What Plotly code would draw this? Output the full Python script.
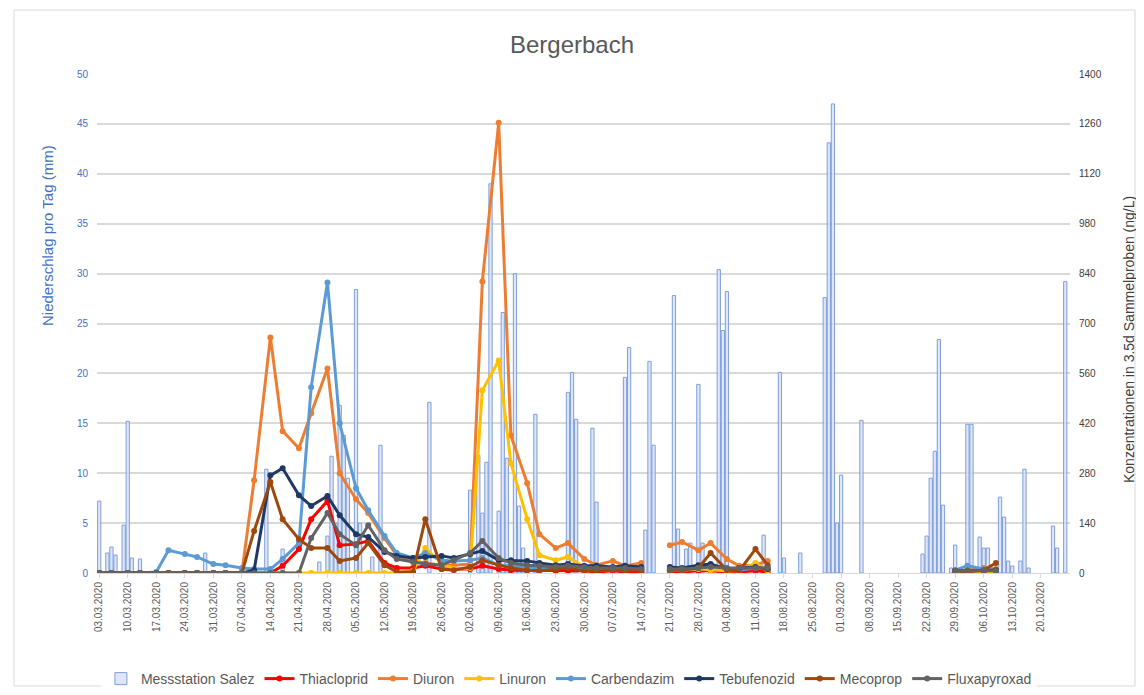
import plotly.graph_objects as go

# ---------------- data ----------------
rain_dates = ["2020-03-03","2020-03-05","2020-03-06","2020-03-07","2020-03-09","2020-03-10","2020-03-11","2020-03-13",
              "2020-03-29","2020-04-13","2020-04-17","2020-04-26","2020-04-28","2020-04-29","2020-04-30","2020-05-01",
              "2020-05-02","2020-05-03","2020-05-05","2020-05-06","2020-05-09","2020-05-11","2020-05-23","2020-06-02",
              "2020-06-04","2020-06-05","2020-06-06","2020-06-07","2020-06-09","2020-06-10","2020-06-11","2020-06-13",
              "2020-06-14","2020-06-15","2020-06-18","2020-06-26","2020-06-27","2020-06-28","2020-07-02","2020-07-03",
              "2020-07-10","2020-07-11","2020-07-15","2020-07-16","2020-07-17","2020-07-22","2020-07-23","2020-07-25",
              "2020-07-26","2020-07-28","2020-07-29","2020-08-02","2020-08-03","2020-08-04","2020-08-13","2020-08-17",
              "2020-08-18","2020-08-22","2020-08-28","2020-08-29","2020-08-30","2020-08-31","2020-09-01","2020-09-06",
              "2020-09-21","2020-09-22","2020-09-23","2020-09-24","2020-09-25","2020-09-26","2020-09-28","2020-09-29",
              "2020-10-02","2020-10-03","2020-10-05","2020-10-06","2020-10-07","2020-10-10","2020-10-11","2020-10-12",
              "2020-10-13","2020-10-15","2020-10-16","2020-10-17","2020-10-23","2020-10-24","2020-10-26"]
rain_mm = [7.2, 2.0, 2.6, 1.8, 4.8, 15.2, 1.5, 1.4,
           2.0, 10.4, 2.4, 1.1, 3.7, 11.7, 5.0, 16.8,
           13.8, 9.5, 28.4, 5.0, 1.6, 12.8, 17.1, 8.3,
           11.8, 6.0, 11.1, 39.0, 6.2, 26.1, 11.5, 30.0,
           6.7, 2.5, 15.9, 18.1, 20.1, 15.4, 14.5, 7.1,
           19.6, 22.6, 4.3, 21.2, 12.8, 27.8, 4.4, 2.4,
           3.0, 18.9, 3.0, 30.4, 24.3, 28.2, 3.8, 20.1,
           1.5, 2.0, 27.6, 43.1, 47.0, 5.0, 9.8, 15.3,
           1.9, 3.7, 9.5, 12.2, 23.4, 6.8, 0.5, 2.8,
           14.9, 14.9, 3.6, 2.5, 2.5, 7.6, 5.6, 1.2,
           0.7, 1.2, 10.4, 0.5, 4.7, 2.5, 29.2]

sample_dates = ["2020-03-03","2020-03-06","2020-03-10","2020-03-13","2020-03-17","2020-03-20","2020-03-24","2020-03-27",
                "2020-03-31","2020-04-03","2020-04-07","2020-04-10","2020-04-14","2020-04-17","2020-04-21","2020-04-24",
                "2020-04-28","2020-05-01","2020-05-05","2020-05-08","2020-05-12","2020-05-15","2020-05-19","2020-05-22",
                "2020-05-26","2020-05-29","2020-06-02","2020-06-05","2020-06-09","2020-06-12","2020-06-16","2020-06-19",
                "2020-06-23","2020-06-26","2020-06-30","2020-07-03","2020-07-07","2020-07-10","2020-07-14",
                "2020-07-17",
                "2020-07-21","2020-07-24","2020-07-28","2020-07-31","2020-08-04","2020-08-07","2020-08-11","2020-08-14",
                "2020-08-18",
                "2020-09-29","2020-10-02","2020-10-06","2020-10-09"]

Z = None  # no sample (gap in the line)
thiacloprid = [0]*13 + [20, 67, 151, 202, 78, 81, 90, 28, 14, 14, 20, 11, 11, 11, 20, 11, 8, 8, 6, 6, 6, 6, 3, 6, 3, 3] \
    + [Z] + [3, 3, 6, 6, 3, 3, 6, 3] + [Z] + [3, 3, 3, 3]
diuron = [0]*11 + [260, 661, 398, 350, 448, 574, 280, 207, 168, 98, 50, 34, 28, 22, 22, 25, 818, 1263, 386, 252,
                   109, 70, 84, 39, 22, 34, 20, 28] \
    + [Z] + [78, 87, 64, 84, 39, 20, 22, 34] + [Z] + [6, 8, 14, 11]
linuron = [0]*22 + [6, 70, 28, 11, 14, 512, 596, 308, 151, 50, 36, 45, 17, 14, 11, 14, 11] \
    + [Z] + [8, 8, 11, 8, 6, 6, 28, 8] + [Z] + [3, 3, 3, 3]
carbendazim = [0, 0, 0, 0, 3, 64, 53, 45, 25, 22, 14, 11, 11, 39, 84, 521, 815, 420, 238, 176, 104, 56, 42, 56,
               36, 34, 36, 42, 22, 20, 17, 14, 14, 17, 11, 11, 14, 11, 11] \
    + [Z] + [8, 8, 14, 22, 11, 8, 14, 11] + [Z] + [8, 20, 11, 8]
tebufenozid = [0]*11 + [8, 274, 294, 218, 188, 216, 162, 109, 101, 59, 48, 42, 45, 48, 42, 53, 62, 36, 36, 34,
                        28, 22, 25, 20, 20, 17, 20, 17] \
    + [Z] + [17, 14, 22, 25, 11, 14, 17, 11] + [Z] + [6, 6, 6, 8]
mecoprop = [0]*11 + [118, 255, 151, 95, 70, 70, 34, 42, 84, 22, 3, 3, 151, 11, 8, 17, 36, 22, 14, 8,
                     6, 11, 14, 6, 6, 8, 6, 8] \
    + [Z] + [8, 8, 14, 56, 8, 6, 67, 22] + [Z] + [6, 3, 8, 28]
fluxapyroxad = [0]*15 + [98, 168, 109, 78, 134, 64, 39, 31, 25, 22, 36, 56, 90, 42, 28, 22, 20, 17, 20, 17,
                         14, 14, 14, 11] \
    + [Z] + [11, 11, 14, 17, 14, 14, 14, 14] + [Z] + [6, 6, 6, 6]

series = [("Thiacloprid", thiacloprid, "#FF0000"),
          ("Diuron", diuron, "#ED7D31"),
          ("Linuron", linuron, "#FFC000"),
          ("Carbendazim", carbendazim, "#5B9BD5"),
          ("Tebufenozid", tebufenozid, "#203864"),
          ("Mecoprop", mecoprop, "#9E480E"),
          ("Fluxapyroxad", fluxapyroxad, "#636363")]

tick_dates = ["2020-03-03","2020-03-10","2020-03-17","2020-03-24","2020-03-31","2020-04-07","2020-04-14","2020-04-21",
              "2020-04-28","2020-05-05","2020-05-12","2020-05-19","2020-05-26","2020-06-02","2020-06-09","2020-06-16",
              "2020-06-23","2020-06-30","2020-07-07","2020-07-14","2020-07-21","2020-07-28","2020-08-04","2020-08-11",
              "2020-08-18","2020-08-25","2020-09-01","2020-09-08","2020-09-15","2020-09-22","2020-09-29","2020-10-06",
              "2020-10-13","2020-10-20"]
tick_text = [d[8:10] + "." + d[5:7] + "." + d[0:4] for d in tick_dates]

left_ticks = [0, 5, 10, 15, 20, 25, 30, 35, 40, 45, 50]
right_ticks = [0, 140, 280, 420, 560, 700, 840, 980, 1120, 1260, 1400]

# ---------------- figure ----------------
NARROW = "Liberation Sans Narrow, Liberation Sans, Arial, sans-serif"
REG = "Liberation Sans, Arial, sans-serif"
fig = go.Figure()

fig.add_trace(go.Bar(
    x=rain_dates, y=rain_mm, name="Messstation Salez",
    width=0.8 * 86400000,
    marker=dict(color="rgba(214,224,245,0.8)", line=dict(color="#7F9FDB", width=1)),
    yaxis="y",
))

for name, vals, col in series:
    fig.add_trace(go.Scatter(
        x=sample_dates, y=vals, name=name, yaxis="y2",
        mode="lines+markers", connectgaps=False,
        line=dict(color=col, width=3),
        marker=dict(color=col, size=6, symbol="circle"),
    ))

# the page body has an 8 px margin: figure coords = page coords - 8
OFF = 8
W, H = 1144 - 2 * OFF, 695 - 2 * OFF
PL, PR, PT, PB = 97, 1070, 74, 573          # plot area in page pixels
L, R, T, B = PL - OFF, W - (PR - OFF), PT - OFF, H - (PB - OFF)
pw, ph = W - L - R, H - T - B

def px_x(x):
    return (x - OFF - L) / pw

def px_y(y):
    return (H - B - (y - OFF)) / ph

fig.update_layout(
    width=W, height=H, autosize=False,
    margin=dict(l=L, r=R, t=T, b=B, autoexpand=False),
    paper_bgcolor="white", plot_bgcolor="white",
    font=dict(family=NARROW, color="#595959"),
    title=dict(text="Bergerbach", x=0.5, xanchor="center", y=1 - (45 - OFF) / H, yanchor="middle",
               font=dict(size=24, color="#595959", family=REG)),
    showlegend=True,
    legend=dict(orientation="h", x=0.485, xanchor="center", y=px_y(679), yanchor="middle",
                font=dict(size=14, color="#595959", family=NARROW), itemwidth=30,
                traceorder="normal"),
    xaxis=dict(
        type="date", automargin=False,
        range=["2020-03-02 11:00", "2020-10-27 04:00"],
        tickmode="array", tickvals=tick_dates, ticktext=tick_text, tickangle=-90,
        tickfont=dict(size=10, color="#595959", family=NARROW),
        showgrid=False, showline=True, linecolor="#D9D9D9", linewidth=1,
        ticks="outside", ticklen=4, tickcolor="#D9D9D9",
        zeroline=False,
    ),
    yaxis=dict(
        automargin=False,
        range=[0, 50], tickmode="array", tickvals=left_ticks,
        tickfont=dict(size=10, color="#4472C4", family=NARROW),
        showgrid=True, gridcolor="#D9D9D9", gridwidth=1.5,
        zeroline=False, showline=False, ticklabelstandoff=8,
    ),
    yaxis2=dict(
        automargin=False,
        range=[0, 1400], tickmode="array", tickvals=right_ticks,
        overlaying="y", side="right",
        tickfont=dict(size=10, color="#404040", family=NARROW),
        showgrid=False, zeroline=False, showline=False, ticklabelstandoff=8,
    ),
    annotations=[
        dict(text="Niederschlag pro Tag (mm)", xref="paper", yref="paper",
             x=px_x(47), y=px_y(236), xanchor="center", yanchor="middle", textangle=-90,
             showarrow=False, font=dict(size=15, color="#4472C4", family=REG)),
        dict(text="Konzentrationen in 3.5d Sammelproben (ng/L)", xref="paper", yref="paper",
             x=px_x(1129), y=px_y(340), xanchor="center", yanchor="middle", textangle=-90,
             showarrow=False, font=dict(size=14, color="#404040", family=REG)),
    ],
    shapes=[dict(type="rect", xref="paper", yref="paper",
                 x0=px_x(14), x1=px_x(1135), y0=px_y(686), y1=px_y(10),
                 line=dict(color="#D9D9D9", width=1), fillcolor="rgba(0,0,0,0)", layer="below")],
)

fig.write_html("out.html")
